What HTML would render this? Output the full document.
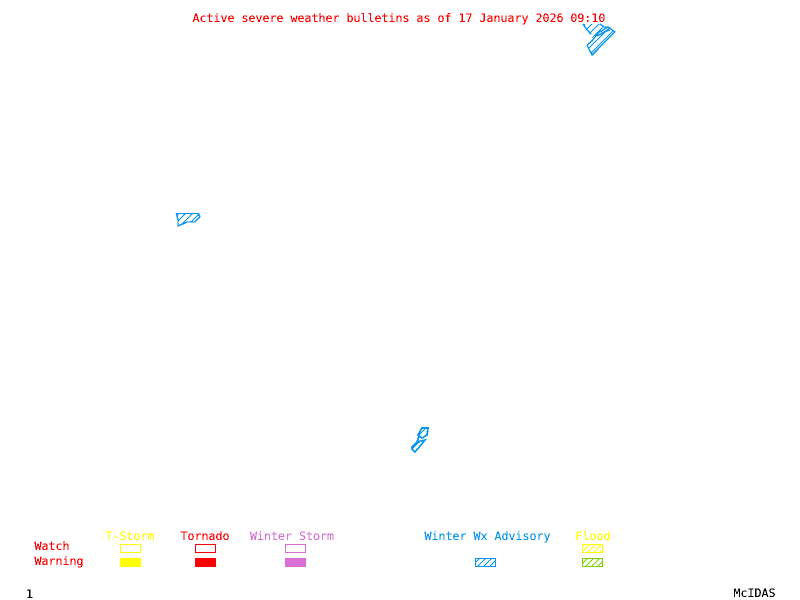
<!DOCTYPE html>
<html><head><meta charset="utf-8"><style>
html,body{margin:0;padding:0;background:#fff;width:800px;height:600px;overflow:hidden}
svg{display:block}
text{font-family:"DejaVu Sans Mono",monospace;font-size:11.63px;white-space:pre}
</style></head><body>
<svg width="800" height="600" viewBox="0 0 800 600" xmlns="http://www.w3.org/2000/svg">
<defs>
<filter id="px" filterUnits="userSpaceOnUse" x="0" y="0" width="800" height="600" color-interpolation-filters="sRGB">
<feComponentTransfer><feFuncA type="discrete" tableValues="0 1 1"/></feComponentTransfer>
</filter>
<pattern id="hm" patternUnits="userSpaceOnUse" width="7" height="7"><path d="M-1 8L8 -1M-1 1L1 -1M6 8L8 6" stroke="#0a96f0" stroke-width="1.2" fill="none"/></pattern>
<pattern id="hb" patternUnits="userSpaceOnUse" width="6" height="6"><path d="M-1 7L7 -1M-1 1L1 -1M5 7L7 5" stroke="#0a96f0" stroke-width="1.2" fill="none"/></pattern>
<pattern id="hy" patternUnits="userSpaceOnUse" width="6" height="6"><path d="M-1 7L7 -1M-1 1L1 -1M5 7L7 5" stroke="#ffff00" stroke-width="1.2" fill="none"/></pattern>
<pattern id="hg" patternUnits="userSpaceOnUse" width="6" height="6"><path d="M-1 7L7 -1M-1 1L1 -1M5 7L7 5" stroke="#7fd000" stroke-width="1.2" fill="none"/></pattern>
</defs>
<rect width="800" height="600" fill="#fff"/>
<g filter="url(#px)">
<text x="192.5" y="22" fill="#f00">Active severe weather bulletins as of 17 January 2026 09:10</text>

<g fill="url(#hm)" stroke="#0a96f0" stroke-width="1.3">
<polygon points="583,24 600,24 604,29 598,33 592,38 587,30" stroke="none"/>
<polyline points="583,24 587,30 591,34" fill="none"/>
<polygon points="592,55 587,45 592,41 598,33 608,27 615,32"/>
<polyline points="597,36 604,32 610,30" fill="none"/>
<polyline points="600,24 604,27 608,27" fill="none"/>
<polygon points="176.5,213.5 198.5,213.5 200,217 195,222 187,222 178,226 178,220"/>
</g>
<g fill="url(#hm)" stroke="#0a96f0" stroke-width="1.6">
<polygon points="418,435 422,428 428,428 427,435 422,438"/>
<polygon points="412,447 417,442 425,440 421,445 415,452 412,449"/>
<polyline points="419,436 417,442" fill="none"/>
</g>

<text x="105.5" y="540" fill="#ffff00">T-Storm</text>
<text x="180.5" y="540" fill="#f00">Tornado</text>
<text x="250" y="540" fill="#da70d6">Winter Storm</text>
<text x="424.5" y="540" fill="#0a96f0">Winter Wx Advisory</text>
<text x="575.5" y="540" fill="#ffff00">Flood</text>
<text x="34.5" y="550" fill="#f00">Watch</text>
<text x="34.5" y="565" fill="#f00">Warning</text>

<rect x="120.5" y="544.5" width="20" height="8" fill="none" stroke="#ffff00"/>
<rect x="195.5" y="544.5" width="20" height="8" fill="none" stroke="#f00"/>
<rect x="285.5" y="544.5" width="20" height="8" fill="none" stroke="#da70d6"/>
<rect x="582.5" y="544.5" width="20" height="8" fill="url(#hy)" stroke="#ffff00"/>

<rect x="120" y="558" width="21" height="9" fill="#ffff00"/>
<rect x="195" y="558" width="21" height="9" fill="#f00"/>
<rect x="285" y="558" width="21" height="9" fill="#da70d6"/>
<rect x="475.5" y="558.5" width="20" height="8" fill="url(#hb)" stroke="#0a96f0"/>
<rect x="582.5" y="558.5" width="20" height="8" fill="url(#hg)" stroke="#7fd000"/>

<text x="26" y="598" fill="#000">1</text>
<text x="733.5" y="597" fill="#000">McIDAS</text>
</g>
</svg>
</body></html>
